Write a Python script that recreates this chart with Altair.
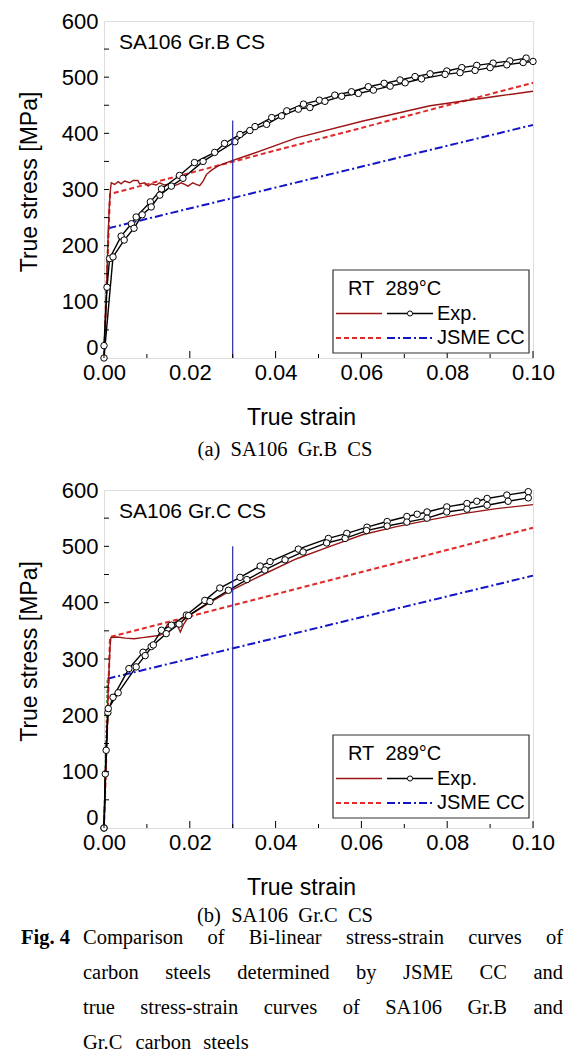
import altair as alt
import pandas as pd

# ---------------- axis ticks ----------------
X_MAJOR = [0.0, 0.02, 0.04, 0.06, 0.08, 0.10]
X_MINOR = [0.01, 0.03, 0.05, 0.07, 0.09]
Y_MAJOR = [0, 100, 200, 300, 400, 500, 600]
Y_SMALL = [50, 100, 150, 200, 250, 300, 350, 400, 450, 500, 550]

# ---------------- (a) SA106 Gr.B ----------------
B_RT_strain = [0, 0.0005, 0.0009, 0.0012, 0.0015, 0.0017, 0.0025, 0.0033, 0.0040, 0.0048, 0.0060,
               0.0068, 0.0079, 0.0083, 0.0095, 0.0103, 0.0110, 0.0122, 0.0130, 0.0141, 0.0153,
               0.0161, 0.0172, 0.0180, 0.0188, 0.0196, 0.0207, 0.0215, 0.0223, 0.0231, 0.0239,
               0.0250, 0.0266, 0.0297, 0.0336, 0.0449, 0.0604, 0.076, 0.0915, 0.1]
B_RT_stress = [0, 100, 200, 265, 300, 312, 309, 314, 310, 315, 312, 316, 316, 310, 312, 306, 310,
               308, 312, 308, 310, 306, 309, 312, 309, 306, 312, 309, 307, 315, 327, 334, 342, 351,
               361, 392, 422, 449, 466, 475]
B_E1_strain = [0.0, 0.0007, 0.0013, 0.0040, 0.0064, 0.0075, 0.0108, 0.0134, 0.0176, 0.0211,
               0.0258, 0.0281, 0.0317, 0.0352, 0.0391, 0.0426, 0.0465, 0.0502, 0.0538, 0.0577,
               0.0616, 0.0653, 0.069, 0.0725, 0.076, 0.0799, 0.0834, 0.0869, 0.0907, 0.0946, 0.0984]
B_E1_stress = [22, 126, 177, 217, 239, 251, 278, 301, 325, 348, 366, 382, 398, 412, 428, 440, 452,
               459, 468, 474, 483, 489, 495, 501, 506, 511, 517, 521, 525, 529, 534]
B_E2_strain = [0.0, 0.0021, 0.0047, 0.0070, 0.0089, 0.0110, 0.0130, 0.0157, 0.0184, 0.0231,
               0.0305, 0.0340, 0.0379, 0.0414, 0.0453, 0.0480, 0.0515, 0.0554, 0.0593, 0.0628,
               0.0667, 0.0702, 0.0740, 0.0795, 0.0830, 0.0865, 0.0900, 0.0939, 0.0977, 0.1]
B_E2_stress = [0, 180, 210, 231, 255, 269, 290, 306, 320, 350, 385, 405, 416, 431, 443, 446, 457,
               466, 471, 477, 484, 490, 497, 505, 508, 512, 517, 522, 526, 528]
B_JRT_strain = [0, 0.0014, 0.1]
B_JRT_stress = [0, 292, 490]
B_J289_strain = [0.001, 0.1]
B_J289_stress = [231, 415]
B_EL_strain = [0, 0.001]
B_EL_stress = [0, 231]
B_CUT_strain = 0.03
B_CUT_top = 423

# ---------------- (b) SA106 Gr.C ----------------
C_RT_strain = [0, 0.0005, 0.001, 0.0014, 0.0016, 0.003, 0.005, 0.007, 0.009, 0.011, 0.013, 0.0137,
               0.0148, 0.0162, 0.0172, 0.0178, 0.0186, 0.020, 0.0225, 0.025, 0.0294, 0.0371, 0.0449,
               0.0527, 0.0604, 0.0682, 0.076, 0.0837, 0.0915, 0.1]
C_RT_stress = [0, 120, 250, 320, 338, 339, 337, 336, 338, 340, 342, 345, 362, 364, 358, 348, 362,
               378, 390, 402, 421, 450, 478, 500, 521, 535, 547, 558, 567, 574]
C_E1_strain = [0.0, 0.0003, 0.0009, 0.0021, 0.0058, 0.0091, 0.0110, 0.0134, 0.0157, 0.0192, 0.0235,
               0.0270, 0.0317, 0.0364, 0.0387, 0.0453, 0.0523, 0.0566, 0.0613, 0.0660, 0.0706,
               0.0730, 0.0753, 0.0799, 0.0846, 0.0869, 0.0893, 0.0939, 0.0989]
C_E1_stress = [0, 96, 205, 232, 283, 312, 322, 351, 360, 378, 404, 426, 445, 465, 473, 495, 514,
               523, 534, 544, 553, 557, 561, 570, 576, 580, 585, 591, 597]
C_E2_strain = [0.0, 0.0005, 0.0010, 0.0033, 0.0075, 0.0096, 0.0115, 0.0145, 0.0175, 0.0197, 0.0247,
               0.0290, 0.0333, 0.0375, 0.0422, 0.0464, 0.0519, 0.0562, 0.0612, 0.0660, 0.0706,
               0.0753, 0.0799, 0.0846, 0.0893, 0.0942, 0.0989]
C_E2_stress = [0, 138, 212, 240, 286, 306, 325, 345, 362, 377, 402, 422, 441, 458, 476, 490, 506,
               514, 528, 536, 543, 550, 561, 566, 573, 580, 586]
C_JRT_strain = [0, 0.0014, 0.1]
C_JRT_stress = [0, 339, 533]
C_J289_strain = [0.0008, 0.1]
C_J289_stress = [265, 448]
C_EL_strain = [0, 0.0008]
C_EL_stress = [0, 265]
C_CUT_strain = 0.03
C_CUT_top = 500

CAPTION_LINES = [
    ["Comparison", "of", "Bi-linear", "stress-strain", "curves", "of"],
    ["carbon", "steels", "determined", "by", "JSME", "CC", "and"],
    ["true", "stress-strain", "curves", "of", "SA106", "Gr.B", "and"],
    ["Gr.C", "carbon", "steels"],
]

W = 429
SANS = "Liberation Sans"
SERIF = "Liberation Serif"
NB = "\u00a0"

TIMES = {' ': 250, 'a': 444, 'b': 500, 'c': 444, 'd': 500, 'e': 444, 'f': 333, 'g': 500, 'h': 500,
         'i': 278, 'j': 278, 'k': 500, 'l': 278, 'm': 778, 'n': 500, 'o': 500, 'p': 500, 'q': 500,
         'r': 333, 's': 389, 't': 278, 'u': 500, 'v': 500, 'w': 722, 'x': 500, 'y': 500, 'z': 444,
         'A': 722, 'B': 667, 'C': 667, 'D': 722, 'E': 611, 'G': 722, 'J': 389, 'M': 889, 'S': 556,
         '.': 250, '-': 333, '(': 333, ')': 333}


def tw(word, size):
    return sum(TIMES.get(c, 500) for c in word) * size / 1000.0


def xy(sx, sy):
    return pd.DataFrame({"x": sx, "y": sy, "i": list(range(len(sx)))})


def X(**kw):
    return alt.X("x:Q", scale=alt.Scale(domain=[0, 0.1], nice=False, zero=False), **kw)


def Y(**kw):
    return alt.Y("y:Q", scale=alt.Scale(domain=[0, 600], nice=False), **kw)


def panel(h, rt, e1, e2, jrt, j289, el, cut, cut_top, label, caption, bt, cap_dy, extra=None):
    xaxis = alt.Axis(values=X_MAJOR, format=".2f", ticks=False, domain=False, grid=False,
                     labelFontSize=22, labelFont=SANS, labelColor="#000", labelPadding=4,
                     labelFlush=False, labelOverlap=False,
                     title="True strain", titleFont=SANS, titleFontSize=23, titleFontWeight="normal",
                     titleColor="#000", titleX=197, titleY=59, titleBaseline="middle", titleAlign="center")
    yaxis = alt.Axis(values=Y_MAJOR, ticks=False, domain=False, grid=False,
                     labelFontSize=22, labelFont=SANS, labelColor="#000", labelPadding=6,
                     labelOverlap=False,
                     labelOffset={"condition": {"test": "datum.value == 0", "value": -11}, "value": 0},
                     title="True stress [MPa]", titleFont=SANS, titleFontSize=23,
                     titleFontWeight="normal", titleColor="#000", titleAngle=270,
                     titleX=-75, titleY=h / 2 - 8, titleBaseline="middle", titleAlign="center")

    base_green = alt.Chart(xy(*el)).mark_line(color="#2E8B2E", strokeWidth=1.5, strokeDash=[3, 2]).encode(
        x=X(axis=xaxis), y=Y(axis=yaxis), order="i:Q")
    blue = alt.Chart(xy(*j289)).mark_line(color="#1414C8", strokeWidth=2, strokeDash=[8, 3, 2, 3]).encode(
        x=X(), y=Y(), order="i:Q")
    red_d = alt.Chart(xy(*jrt)).mark_line(color="#E02A2A", strokeWidth=2, strokeDash=[5, 3]).encode(
        x=X(), y=Y(), order="i:Q")
    rt_l = alt.Chart(xy(*rt)).mark_line(color="#9B1515", strokeWidth=1.4).encode(
        x=X(), y=Y(), order="i:Q")
    e_df = pd.concat([xy(*e1).assign(s="1"), xy(*e2).assign(s="2")])
    e_l = alt.Chart(e_df).mark_line(color="#000", strokeWidth=1.4).encode(
        x=X(), y=Y(), detail="s:N", order="i:Q")
    e_p = alt.Chart(e_df).mark_point(shape="circle", filled=True, fill="white", stroke="#000",
                                     strokeWidth=1, size=42, opacity=1).encode(x=X(), y=Y())
    vline = alt.Chart(pd.DataFrame({"x": [cut], "y": [0], "y2": [cut_top]})).mark_rule(
        color="#2A2AA8", strokeWidth=1.2).encode(x=X(), y=Y(), y2="y2:Q")

    xt_major = alt.Chart(pd.DataFrame({"x": X_MAJOR})).mark_rule(color="#000", strokeWidth=1).encode(
        x=X(), y=alt.value(h), y2=alt.value(h - 7))
    xt_minor = alt.Chart(pd.DataFrame({"x": X_MINOR})).mark_rule(color="#000", strokeWidth=1).encode(
        x=X(), y=alt.value(h), y2=alt.value(h - 4))
    yt = alt.Chart(pd.DataFrame({"y": Y_SMALL})).mark_rule(color="#000", strokeWidth=1).encode(
        y=Y(), x=alt.value(0), x2=alt.value(5))

    one = pd.DataFrame({"a": [0]})
    lab = alt.Chart(one).mark_text(text=label, font=SANS, fontSize=21, align="left",
                                   baseline="middle", color="#000").encode(
        x=alt.value(15), y=alt.value(22))
    cap = alt.Chart(one).mark_text(text=caption, font=SERIF, fontSize=20.5, align="center",
                                   baseline="middle", color="#000").encode(
        x=alt.value(181), y=alt.value(h + cap_dy))

    # legend box
    lx0, lx1 = 229, 425
    box = alt.Chart(one).mark_rect(fill="white", stroke="#333", strokeWidth=1.2).encode(
        x=alt.value(lx0), x2=alt.value(lx1), y=alt.value(bt), y2=alt.value(bt + 83))
    r1, r2, r3 = bt + 19, bt + 43.5, bt + 68
    lt1 = alt.Chart(one).mark_text(text="RT" + NB + NB + "289°C", font=SANS, fontSize=20, align="left",
                                   baseline="middle", color="#000").encode(x=alt.value(244), y=alt.value(r1))
    lt2 = alt.Chart(one).mark_text(text="Exp.", font=SANS, fontSize=20, align="left",
                                   baseline="middle", color="#000").encode(x=alt.value(333), y=alt.value(r2))
    lt3 = alt.Chart(one).mark_text(text="JSME CC", font=SANS, fontSize=20, align="left",
                                   baseline="middle", color="#000").encode(x=alt.value(333), y=alt.value(r3))
    ls1 = alt.Chart(one).mark_rule(color="#9B1515", strokeWidth=1.5).encode(
        x=alt.value(232), x2=alt.value(278), y=alt.value(r2))
    ls2 = alt.Chart(one).mark_rule(color="#000", strokeWidth=1.4).encode(
        x=alt.value(283), x2=alt.value(329), y=alt.value(r2))
    ls2p = alt.Chart(one).mark_point(shape="circle", filled=True, fill="white", stroke="#000",
                                     strokeWidth=1, size=26, opacity=1).encode(
        x=alt.value(306), y=alt.value(r2))
    ls3 = alt.Chart(one).mark_rule(color="#E02A2A", strokeWidth=2, strokeDash=[5, 3]).encode(
        x=alt.value(232), x2=alt.value(278), y=alt.value(r3))
    ls4 = alt.Chart(one).mark_rule(color="#1414C8", strokeWidth=2, strokeDash=[8, 3, 2, 3]).encode(
        x=alt.value(283), x2=alt.value(329), y=alt.value(r3))

    layers = [base_green, blue, red_d, rt_l, e_l, e_p, vline, xt_major, xt_minor, yt, lab, cap,
              box, lt1, lt2, lt3, ls1, ls2, ls2p, ls3, ls4]
    if extra:
        layers += extra
    return alt.layer(*layers).properties(width=W, height=h)


# ---- figure caption (justified words, Times metrics) ----
FS = 20.5
L0, L1 = 83 - 104, 563 - 104
rows = []
for li, words in enumerate(CAPTION_LINES):
    yline = 338 + 110 + li * 35
    widths = [tw(w, FS) for w in words]
    if li < len(CAPTION_LINES) - 1:
        gap = (L1 - L0 - sum(widths)) / (len(words) - 1)
    else:
        gap = 12
    xpos = L0
    for w, wd in zip(words, widths):
        rows.append({"t": w, "px": xpos, "py": yline})
        xpos += wd + gap
cap_df = pd.DataFrame(rows)
fig_words = alt.Chart(cap_df).mark_text(font=SERIF, fontSize=FS, align="left", baseline="middle",
                                        color="#000").encode(
    x=alt.X("px:Q", scale=None), y=alt.Y("py:Q", scale=None), text="t:N")
fig_lab = alt.Chart(pd.DataFrame({"a": [0]})).mark_text(
    text="Fig." + NB + "4", font=SERIF, fontSize=FS, fontWeight="bold", align="right", baseline="middle",
    color="#000").encode(x=alt.value(70 - 104), y=alt.value(338 + 110))

CAP_A = "(a)" + NB + NB + "SA106" + NB + NB + "Gr.B" + NB + NB + "CS"
CAP_B = "(b)" + NB + NB + "SA106" + NB + NB + "Gr.C" + NB + NB + "CS"

top = panel(337, (B_RT_strain, B_RT_stress), (B_E1_strain, B_E1_stress), (B_E2_strain, B_E2_stress),
            (B_JRT_strain, B_JRT_stress), (B_J289_strain, B_J289_stress), (B_EL_strain, B_EL_stress),
            B_CUT_strain, B_CUT_top, "SA106 Gr.B CS", CAP_A, 249, 92)
bottom = panel(338, (C_RT_strain, C_RT_stress), (C_E1_strain, C_E1_stress), (C_E2_strain, C_E2_stress),
               (C_JRT_strain, C_JRT_stress), (C_J289_strain, C_J289_stress), (C_EL_strain, C_EL_stress),
               C_CUT_strain, C_CUT_top, "SA106 Gr.C CS", CAP_B, 245, 88, extra=[fig_words, fig_lab])

chart = alt.vconcat(top, bottom, spacing=132, bounds="flush").properties(
    padding={"left": 9, "top": 1, "right": 0, "bottom": 0}
).configure_view(stroke="#111", strokeWidth=1.2).configure(font=SANS)

chart.save("out.html", embed_options={"renderer": "svg", "actions": False})
